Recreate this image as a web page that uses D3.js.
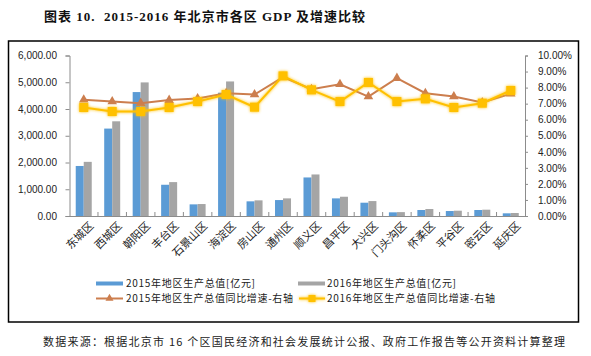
<!DOCTYPE html>
<html><head><meta charset="utf-8">
<script src="https://cdn.jsdelivr.net/npm/d3@7/dist/d3.min.js"></script>
<style>
body{margin:0;background:#fff;}
svg{display:block;}
</style></head>
<body><svg id="c" width="591" height="356"></svg>
<script>
const districts = ["东城区","西城区","朝阳区","丰台区","石景山区","海淀区","房山区","通州区","顺义区","昌平区","大兴区","门头沟区","怀柔区","平谷区","密云区","延庆区"];
const gdp2015 = [1870, 3268, 4633, 1168, 435, 4610, 548, 596, 1441, 659, 497, 137, 224, 186, 224, 100];
const gdp2016 = [2024, 3540, 4994, 1267, 447, 5030, 585, 659, 1553, 720, 558, 145, 261, 198, 236, 112];
const growth2015 = [7.24, 7.13, 7.03, 7.22, 7.32, 7.65, 7.57, 8.65, 7.90, 8.21, 7.44, 8.59, 7.65, 7.44, 7.07, 7.62];
const growth2016 = [6.76, 6.51, 6.51, 6.76, 7.13, 7.57, 6.78, 8.73, 7.86, 7.13, 8.32, 7.13, 7.30, 6.76, 7.03, 7.82];
const leftTicks = [0, 1000, 2000, 3000, 4000, 5000, 6000];
const rightTicks = [0,1,2,3,4,5,6,7,8,9,10];
const legendLabels = ["2015年地区生产总值[亿元]","2016年地区生产总值[亿元]","2015年地区生产总值同比增速-右轴","2016年地区生产总值同比增速-右轴"];
const titleText = "图表 10.  2015-2016 年北京市各区 GDP 及增速比较";
const sourceText = "数据来源：根据北京市 16 个区国民经济和社会发展统计公报、政府工作报告等公开资料计算整理";

const C = {blue:"#5B9BD5", gray:"#A5A5A5", orange:"#CC7E4E", yellow:"#FFC000", axis:"#8c8c8c"};
const svg = d3.select("#c");
const defs = svg.append("defs");
const glow = defs.append("filter").attr("id","glow").attr("x","-50%").attr("y","-50%").attr("width","200%").attr("height","200%");
glow.append("feGaussianBlur").attr("in","SourceGraphic").attr("stdDeviation",1.6).attr("result","b");
const fm = glow.append("feMerge");
fm.append("feMergeNode").attr("in","b");
fm.append("feMergeNode").attr("in","SourceGraphic");

const L=69.5, R=525, T=55.5, B=216;
const x = d3.scaleBand().domain(districts).range([L,R]).padding(0);
const yL = d3.scaleLinear().domain([0,6000]).range([B,T]);
const yR = d3.scaleLinear().domain([0,10]).range([B,T]);

// title
svg.append("text").attr("x",44).attr("y",21).attr("font-family","'Liberation Serif','Noto Sans CJK SC',serif")
  .attr("font-weight","bold").attr("font-size",13).attr("fill","#111")
  .attr("textLength",321).attr("lengthAdjust","spacing").attr("xml:space","preserve").text(titleText);

// frame
svg.append("rect").attr("x",8.5).attr("y",41).attr("width",570).attr("height",281)
  .attr("fill","none").attr("stroke","#000").attr("stroke-width",1.5);

const cx = d => x(d) + x.bandwidth()/2;
const bw = 8;

// bars
svg.append("g").selectAll("rect").data(districts).join("rect")
  .attr("x", d=>cx(d)-bw).attr("width",bw)
  .attr("y",(d,i)=>yL(gdp2015[i])).attr("height",(d,i)=>B-yL(gdp2015[i]))
  .attr("fill",C.blue);
svg.append("g").selectAll("rect").data(districts).join("rect")
  .attr("x", d=>cx(d)).attr("width",bw)
  .attr("y",(d,i)=>yL(gdp2016[i])).attr("height",(d,i)=>B-yL(gdp2016[i]))
  .attr("fill",C.gray);

// axes
const axL = svg.append("g").attr("transform",`translate(${L},0)`)
  .call(d3.axisLeft(yL).tickValues(leftTicks).tickSize(4).tickFormat(d3.format(",.2f")));
const axR = svg.append("g").attr("transform",`translate(${R},0)`)
  .call(d3.axisRight(yR).tickValues(rightTicks).tickSize(3).tickFormat(d=>d.toFixed(2)+"%"));
[axL,axR].forEach(a=>{
  a.select(".domain").attr("stroke",C.axis);
  a.selectAll(".tick line").attr("stroke",C.axis);
  a.selectAll("text").attr("font-family","'Liberation Sans',Arial,sans-serif").attr("font-size",10).attr("fill","#222");
});
axL.selectAll("text").attr("x",-12.5);
axR.selectAll("text").attr("x",13);

const axB = svg.append("g").attr("transform",`translate(0,${B})`)
  .call(d3.axisBottom(x).tickSize(0).tickFormat(""));
axB.select(".domain").attr("stroke",C.axis);
// tick marks between categories
svg.append("g").selectAll("line").data(districts.slice(1)).join("line")
  .attr("x1",d=>x(d)).attr("x2",d=>x(d)).attr("y1",B-4).attr("y2",B)
  .attr("stroke",C.axis);
// category labels
svg.append("g").selectAll("text").data(districts).join("text")
  .attr("transform",d=>`translate(${cx(d)+5},${B+5}) rotate(-45)`)
  .attr("text-anchor","end").attr("dy","0.7em")
  .attr("font-family","'Noto Sans CJK SC',sans-serif").attr("font-size",11).attr("fill","#222")
  .text(d=>d);

// lines
const lineGen = d3.line().x((d,i)=>cx(districts[i])).y(d=>yR(d));
const g15 = svg.append("g");
g15.append("path").datum(growth2015).attr("d",lineGen).attr("fill","none").attr("stroke",C.orange).attr("stroke-width",2);
const tri = d3.symbol().type(d3.symbolTriangle).size(40);
g15.selectAll("path.m").data(growth2015).join("path").attr("class","m")
  .attr("transform",(d,i)=>`translate(${cx(districts[i])},${yR(d)})`).attr("d",tri).attr("fill",C.orange);

const g16 = svg.append("g").attr("filter","url(#glow)");
g16.append("path").datum(growth2016).attr("d",lineGen).attr("fill","none").attr("stroke",C.yellow).attr("stroke-width",2);
g16.selectAll("rect.m").data(growth2016).join("rect").attr("class","m")
  .attr("x",(d,i)=>cx(districts[i])-4.5).attr("y",d=>yR(d)-4.5).attr("width",9).attr("height",9).attr("fill",C.yellow);

// legend
const lg = svg.append("g").attr("font-family","'Noto Sans CJK SC',sans-serif").attr("font-size",10).attr("fill","#222");
const ly1 = 283.5, ly2 = 298.5;
lg.append("rect").attr("x",96).attr("y",ly1-2).attr("width",27).attr("height",4).attr("fill",C.blue);
lg.append("rect").attr("x",298).attr("y",ly1-2).attr("width",27).attr("height",4).attr("fill",C.gray);
lg.append("line").attr("x1",96).attr("x2",123).attr("y1",ly2).attr("y2",ly2).attr("stroke",C.orange).attr("stroke-width",2);
lg.append("path").attr("transform",`translate(109.5,${ly2})`).attr("d",d3.symbol().type(d3.symbolTriangle).size(28)()).attr("fill",C.orange);
const lgy = lg.append("g").attr("filter","url(#glow)");
lgy.append("line").attr("x1",299).attr("x2",325).attr("y1",ly2).attr("y2",ly2).attr("stroke",C.yellow).attr("stroke-width",2);
lgy.append("rect").attr("x",308.5).attr("y",ly2-3.5).attr("width",7).attr("height",7).attr("fill",C.yellow);
const lpos = [[126,ly1,129],[327,ly1,129],[126,ly2,167],[327,ly2,168]];
lg.selectAll("text").data(legendLabels).join("text")
  .attr("x",(d,i)=>lpos[i][0]).attr("y",(d,i)=>lpos[i][1]).attr("dy","0.36em")
  .attr("textLength",(d,i)=>lpos[i][2]).attr("lengthAdjust","spacing").text(d=>d);

// source
svg.append("text").attr("x",43).attr("y",342).attr("dy","0.36em")
  .attr("font-family","'Noto Sans CJK SC',sans-serif").attr("font-size",11).attr("fill","#222")
  .attr("textLength",522).attr("lengthAdjust","spacing").text(sourceText);
</script></body></html>
